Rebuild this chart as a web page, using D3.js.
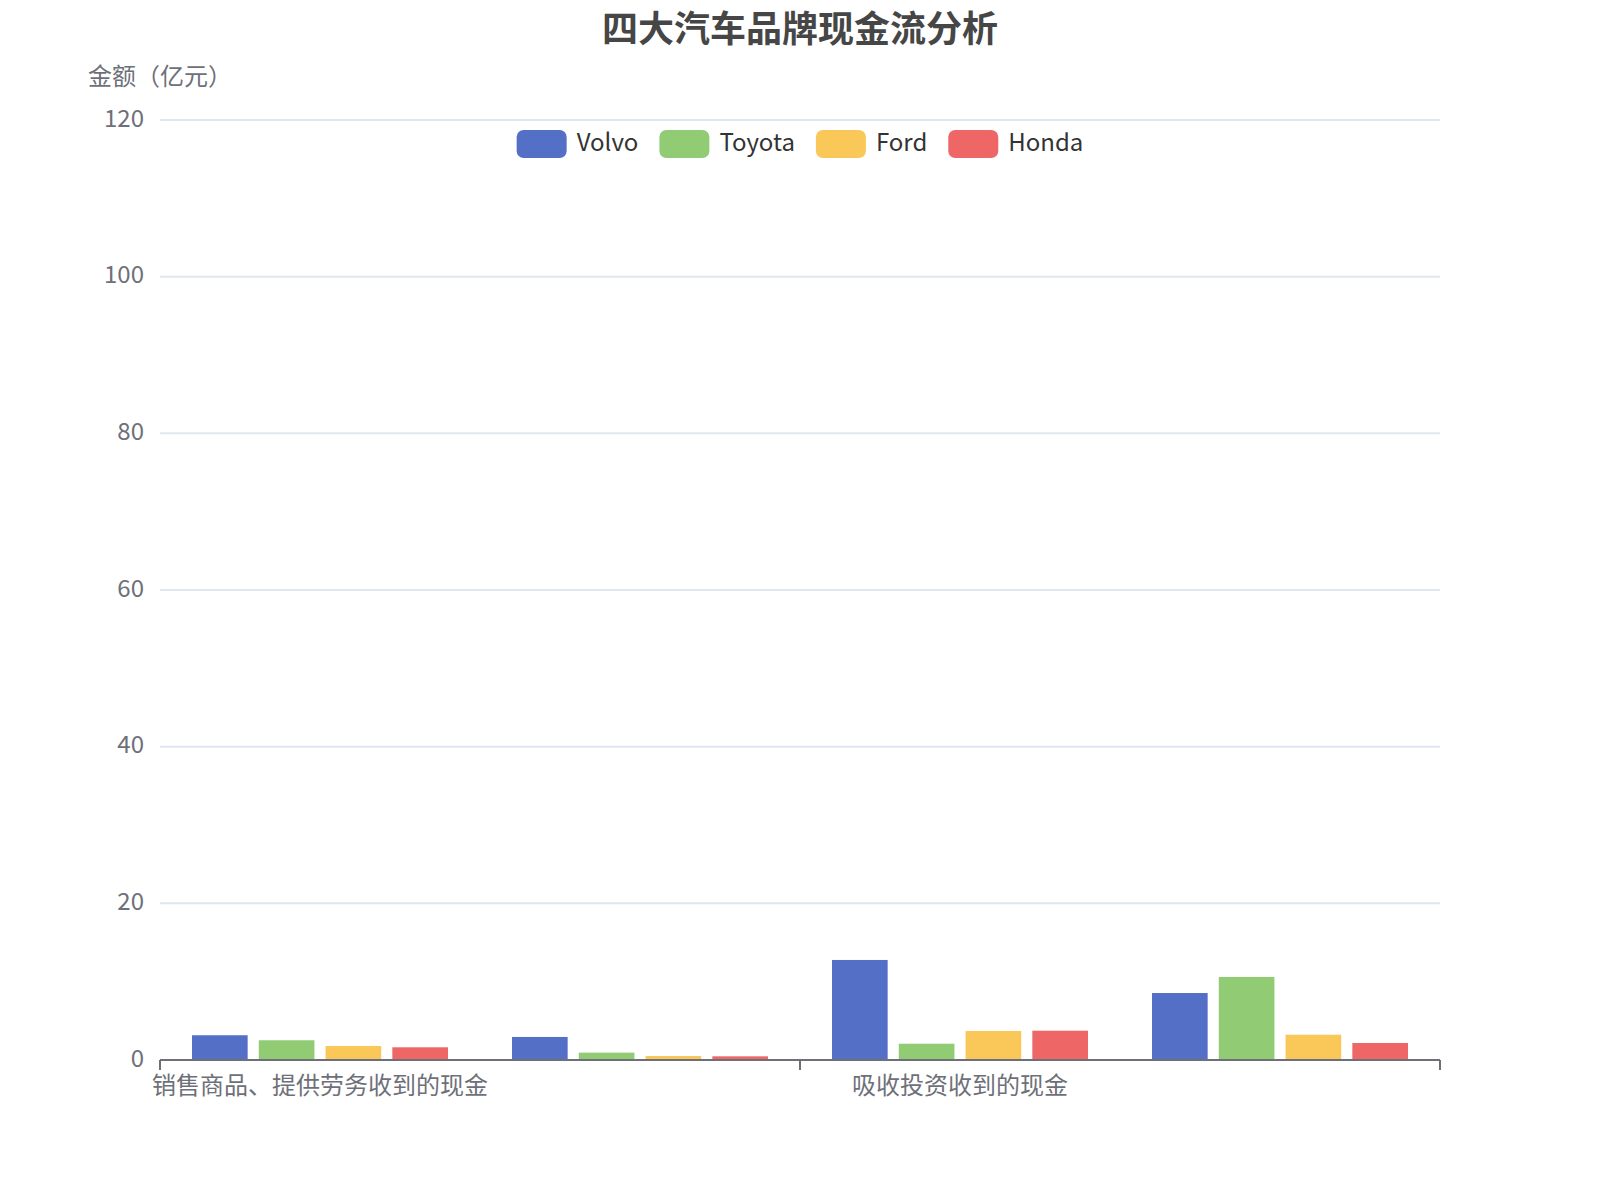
<!DOCTYPE html>
<html><head><meta charset="utf-8">
<script src="https://cdn.jsdelivr.net/npm/d3@7/dist/d3.min.js"></script>
<style>
html,body{margin:0;padding:0;background:#fff;}
svg{display:block;font-family:"Microsoft YaHei","Noto Sans CJK SC","Noto Sans",sans-serif;}
</style></head>
<body>
<svg id="chart" width="1600" height="1200"></svg>
<script>
const title = "四大汽车品牌现金流分析";
const yAxisName = "金额（亿元）";
const categories = ["销售商品、提供劳务收到的现金", "购买商品、接受劳务支付的现金", "吸收投资收到的现金", "取得借款收到的现金"];
const shownLabels = [true, false, true, false];
const seriesNames = ["Volvo", "Toyota", "Ford", "Honda"];
const volvo  = [3.16, 2.94, 12.77, 8.55];
const toyota = [2.52, 0.94, 2.08, 10.6];
const ford   = [1.79, 0.51, 3.7, 3.23];
const honda  = [1.62, 0.47, 3.74, 2.17];
const seriesValues = [volvo, toyota, ford, honda];
const colors = ["#5470c6", "#91cc75", "#fac858", "#ee6666"];
const yTicks = [0, 20, 40, 60, 80, 100, 120];

const W = 1600, H = 1200;
const m = {left: 160, right: 160, top: 120, bottom: 140};
const svg = d3.select("#chart");

const x = d3.scaleBand().domain(categories).range([m.left, W - m.right]).paddingInner(0).paddingOuter(0);
const y = d3.scaleLinear().domain([0, 120]).range([H - m.bottom, m.top]);

// bar layout: category gap 20%, bar gap 20%
const bw = x.bandwidth();
const avail = bw * 0.8;
const barW = avail / (4 + 3 * 0.2);
const gapW = barW * 0.2;

// gridlines
svg.append("g").selectAll("line").data(yTicks.filter(d => d !== 0)).join("line")
  .attr("x1", m.left).attr("x2", W - m.right)
  .attr("y1", d => y(d)).attr("y2", d => y(d))
  .attr("stroke", "#E0E6F1").attr("stroke-width", 2);

// y labels
svg.append("g").selectAll("text").data(yTicks).join("text")
  .attr("x", m.left - 16).attr("y", d => y(d) - 4)
  .attr("text-anchor", "end").attr("dominant-baseline", "central")
  .attr("font-size", 24).attr("fill", "#6E7079").text(d => d);

// y axis name
svg.append("text").attr("x", m.left).attr("y", 85)
  .attr("text-anchor", "middle").attr("font-size", 24).attr("fill", "#6E7079").text(yAxisName);

// bars
const groups = svg.append("g").selectAll("g").data(seriesNames).join("g").attr("fill", (d, i) => colors[i]);
groups.selectAll("rect").data((s, si) => seriesValues[si].map((v, ci) => ({v, ci, si}))).join("rect")
  .attr("x", d => x(categories[d.ci]) + bw * 0.1 + d.si * (barW + gapW))
  .attr("width", barW)
  .attr("y", d => y(d.v))
  .attr("height", d => y(0) - y(d.v));

// x axis line
svg.append("line").attr("x1", m.left).attr("x2", W - m.right)
  .attr("y1", y(0)).attr("y2", y(0)).attr("stroke", "#6E7079").attr("stroke-width", 2);

// ticks at boundaries of shown labels and at end
const tickPos = categories.filter((c, i) => shownLabels[i]).map(c => x(c)).concat([W - m.right]);
svg.append("g").selectAll("line").data(tickPos).join("line")
  .attr("x1", d => d).attr("x2", d => d)
  .attr("y1", y(0)).attr("y2", y(0) + 10)
  .attr("stroke", "#6E7079").attr("stroke-width", 2);

// x labels
svg.append("g").selectAll("text").data(categories.filter((c, i) => shownLabels[i])).join("text")
  .attr("x", d => x(d) + bw / 2).attr("y", y(0) + 12)
  .attr("text-anchor", "middle").attr("dominant-baseline", "hanging")
  .attr("font-size", 24).attr("fill", "#6E7079").text(d => d);

// title
svg.append("text").attr("x", W / 2).attr("y", 42)
  .attr("text-anchor", "middle")
  .attr("font-size", 36).attr("font-weight", "bold").attr("fill", "#464646").text(title);

// legend
const legend = svg.append("g");
const fontSize = 24;
let items = [];
let cx = 0;
const tmp = legend.append("text").attr("font-size", fontSize);
seriesNames.forEach((n, i) => {
  tmp.text(n);
  const tw = tmp.node().getComputedTextLength();
  items.push({n, i, x: cx, tw});
  cx += 50 + 10 + tw + 21;
});
tmp.remove();
const totalW = cx - 21;
const lx0 = W / 2 - totalW / 2;
const ly = 144;
const li = legend.selectAll("g").data(items).join("g").attr("transform", d => `translate(${lx0 + d.x},${ly})`);
li.append("rect").attr("x", 0).attr("y", -14).attr("width", 50).attr("height", 28).attr("rx", 7)
  .attr("fill", d => colors[d.i]);
li.append("text").attr("x", 60).attr("y", -4).attr("dominant-baseline", "central")
  .attr("font-size", fontSize).attr("fill", "#333").text(d => d.n);
</script>
</body></html>
